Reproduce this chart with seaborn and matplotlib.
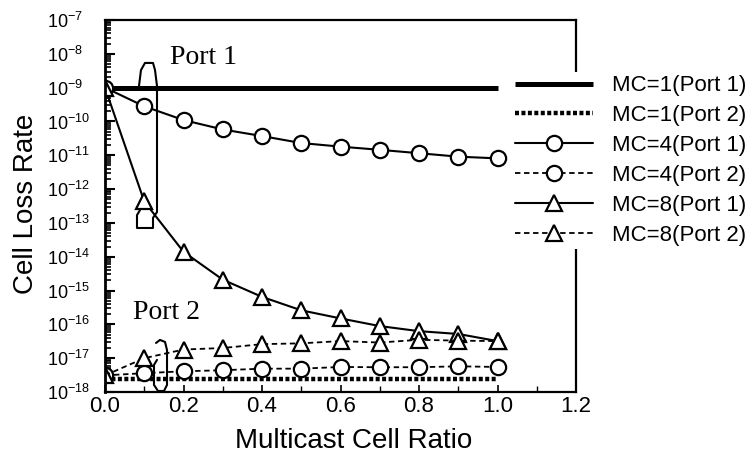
import numpy as np
import pandas as pd
import matplotlib
matplotlib.use("Agg")
import matplotlib.pyplot as plt
import seaborn as sns
from matplotlib.ticker import LogLocator, FixedLocator, MultipleLocator, NullFormatter

# ---------------- data ----------------
ratio = [0.0, 0.1, 0.2, 0.3, 0.4, 0.5, 0.6, 0.7, 0.8, 0.9, 1.0]
mc1_port1 = [1e-9] * 11
mc1_port2 = [2.45e-18] * 11
mc4_port1 = [1e-9, 2.8e-10, 1.1e-10, 5.8e-11, 3.7e-11, 2.3e-11, 1.8e-11, 1.45e-11, 1.15e-11, 9.1e-12, 8.1e-12]
mc4_port2 = [3.1e-18, 3.6e-18, 4.1e-18, 4.4e-18, 4.9e-18, 4.9e-18, 5.5e-18, 5.4e-18, 5.4e-18, 5.75e-18, 5.5e-18]
mc8_port1 = [1e-9, 4.3e-13, 1.4e-14, 2.1e-15, 6.5e-16, 2.6e-16, 1.5e-16, 8.9e-17, 6.3e-17, 5.2e-17, 3.2e-17]
mc8_port2 = [3.1e-18, 1.0e-17, 1.8e-17, 2.0e-17, 2.6e-17, 2.75e-17, 3.2e-17, 2.9e-17, 3.5e-17, 3.3e-17, 3.2e-17]
series_labels = ["MC=1(Port 1)", "MC=1(Port 2)", "MC=4(Port 1)", "MC=4(Port 2)", "MC=8(Port 1)", "MC=8(Port 2)"]
series_values = [mc1_port1, mc1_port2, mc4_port1, mc4_port2, mc8_port1, mc8_port2]
x_ticks = [0.0, 0.2, 0.4, 0.6, 0.8, 1.0, 1.2]
x_tick_labels = ["0.0", "0.2", "0.4", "0.6", "0.8", "1.0", "1.2"]
y_exponents = list(range(-18, -6))

df = pd.DataFrame({lab: vals for lab, vals in zip(series_labels, series_values)})
df["ratio"] = ratio

# ---------------- style ----------------
sns.set_theme(style="ticks")
plt.rcParams["font.family"] = ["Liberation Sans", "DejaVu Sans"]
plt.rcParams["mathtext.fontset"] = "custom"
plt.rcParams["mathtext.rm"] = "Liberation Sans"
plt.rcParams["mathtext.it"] = "Liberation Sans:italic"
plt.rcParams["mathtext.bf"] = "Liberation Sans:bold"
plt.rcParams["text.color"] = "black"
plt.rcParams["axes.labelcolor"] = "black"
plt.rcParams["xtick.color"] = "black"
plt.rcParams["ytick.color"] = "black"

fig = plt.figure(figsize=(7.52, 4.61), dpi=100)
fig.patch.set_facecolor("white")
ax = fig.add_axes([105 / 752, (461 - 392) / 461, 471 / 752, 372 / 461])
ax.set_facecolor("white")

dash = (0, (3, 2))
styles = {
    "MC=1(Port 1)": dict(lw=3.6, ls="-", marker=None),
    "MC=1(Port 2)": dict(lw=3.2, ls=(0, (0.9, 0.55)), marker=None),
    "MC=4(Port 1)": dict(lw=1.5, ls="-", marker="o", ms=11),
    "MC=4(Port 2)": dict(lw=1.3, ls=dash, marker="o", ms=11),
    "MC=8(Port 1)": dict(lw=1.5, ls="-", marker="^", ms=12),
    "MC=8(Port 2)": dict(lw=1.3, ls=dash, marker="^", ms=12),
}

for lab in series_labels:
    st = dict(styles[lab])
    kw = dict(color="black", linewidth=st["lw"], linestyle=st["ls"])
    if st["marker"]:
        kw.update(marker=st["marker"], markersize=st["ms"], markerfacecolor="white",
                  markeredgecolor="black", markeredgewidth=1.6)
    else:
        kw.update(dash_capstyle="butt", solid_capstyle="butt")
    sns.lineplot(data=df, x="ratio", y=lab, ax=ax, label=lab, **kw)

ax.set_yscale("log")
ax.set_xlim(0, 1.2)
ax.set_ylim(1e-18, 1e-7)

ax.set_xticks(x_ticks)
ax.set_xticklabels(x_tick_labels, fontsize=16, color="black")
ax.xaxis.set_minor_locator(MultipleLocator(0.1))

yt = [10.0 ** e for e in y_exponents]
ax.yaxis.set_major_locator(FixedLocator(yt))
ax.set_yticklabels(["10$^{%d}$" % e for e in y_exponents], fontsize=13, color="black")
ax.yaxis.set_minor_locator(LogLocator(base=10, subs=np.arange(2, 10), numticks=200))
ax.yaxis.set_minor_formatter(NullFormatter())

ax.tick_params(axis="both", which="both", direction="in", top=False, right=False, colors="black")
ax.tick_params(axis="x", which="major", length=5, width=1.2, pad=3)
ax.tick_params(axis="x", which="minor", length=4, width=1.0)
ax.tick_params(axis="y", which="major", length=7, width=1.5, pad=42)
ax.tick_params(axis="y", which="minor", length=4, width=1.2)
for lbl in ax.get_yticklabels():
    lbl.set_horizontalalignment("left")

for side in ["left", "bottom", "top", "right"]:
    ax.spines[side].set_visible(True)
    ax.spines[side].set_color("black")
    ax.spines[side].set_linewidth(1.6)
ax.spines["left"].set_linewidth(2.0)

ax.set_xlabel("Multicast Cell Ratio", fontsize=20, color="black")
ax.set_ylabel("Cell Loss Rate", fontsize=20, color="black")
ax.xaxis.set_label_coords(0.527, -0.097)
ax.yaxis.set_label_coords(-0.14, 0.505)

# annotations
ax.text(0.166, 10 ** -8.12, "Port 1", family=["Liberation Serif", "DejaVu Serif"], fontsize=20,
        va="center", ha="left", color="black")
ax.text(0.071, 10 ** -15.66, "Port 2", family=["Liberation Serif", "DejaVu Serif"], fontsize=20,
        va="center", ha="left", color="black")

port1_loop_x = [0.0866, 0.0917, 0.1019, 0.1223, 0.1274, 0.1325, 0.1325, 0.1223, 0.1223, 0.0815, 0.0815, 0.0892]
port1_loop_ly = [-8.95, -8.48, -8.27, -8.27, -8.48, -8.95, -12.68, -12.85, -13.15, -13.15, -12.77, -12.62]
port2_loop_x = [0.130, 0.1401, 0.1529, 0.158, 0.158, 0.1503, 0.135, 0.1248, 0.1248, 0.1325]
port2_loop_ly = [-16.55, -16.46, -16.52, -16.76, -17.79, -17.97, -17.97, -17.79, -17.20, -17.05]
ax.plot(port1_loop_x, [10 ** v for v in port1_loop_ly], color="black", lw=1.5, clip_on=False)
ax.plot(port2_loop_x, [10 ** v for v in port2_loop_ly], color="black", lw=1.5, clip_on=False)

# legend
handles, labels = ax.get_legend_handles_labels()
leg = ax.legend(handles, labels, loc="upper left",
                bbox_to_anchor=(512 / 752, 1 - 72 / 461), bbox_transform=fig.transFigure,
                frameon=True, fancybox=False, edgecolor="none", facecolor="white", framealpha=1,
                fontsize=16, handlelength=3.5, handletextpad=0.85, labelspacing=0.4,
                borderpad=0.15, borderaxespad=0)
leg.set_zorder(10)
for t in leg.get_texts():
    t.set_color("black")

fig.savefig("out.png", dpi=100, facecolor="white")
